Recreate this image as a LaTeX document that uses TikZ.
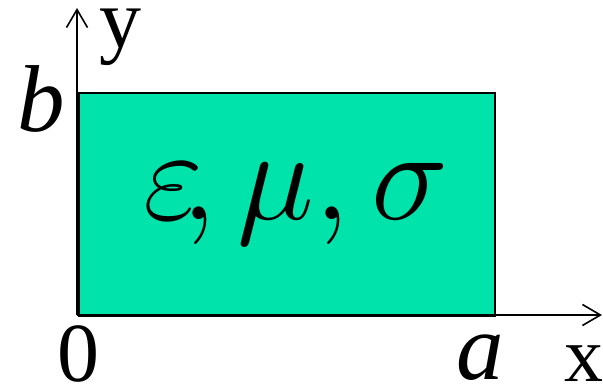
\RequirePackage{fix-cm}
\documentclass[tikz,border=0pt]{standalone}
\usepackage{fontspec}
\setmainfont{Liberation Serif}
\usetikzlibrary{arrows.meta}
\definecolor{fillgreen}{RGB}{0,227,170}
\begin{document}
\begin{tikzpicture}[x=1pt,y=-1pt,
  axis/.style={line width=1.6pt,-{Straight Barb[length=18pt,width=21pt,line width=1.6pt]}},
  lbl/.style={anchor=base,inner sep=0pt,font=\fontsize{84}{90}\selectfont},
  ilbl/.style={anchor=base,inner sep=0pt,font=\fontsize{95}{100}\selectfont\itshape}]
\useasboundingbox (0,0) rectangle (603,385);
\node[draw=black,line width=1.6pt,fill=fillgreen,minimum width=416pt,minimum height=223pt,inner sep=0pt,anchor=north west] (box) at (78,92) {};
\coordinate (O) at (77,315);
\coordinate (ytip) at (77,8);
\coordinate (xtip) at (602,315);
\draw[axis] (O) -- (ytip);
\draw[axis] (O) -- (xtip);
\node[anchor=base,inner sep=0pt,font=\fontsize{130}{136}\selectfont] (mat) at (296,220) {$\varepsilon\!,\mu,\sigma$};
\node[lbl] (ylab) at (120,48) {y};
\node[lbl,font=\fontsize{78}{80}\selectfont] (xlab) at (584,381) {x};
\node[lbl] (zero) at (78,381) {0};
\node[ilbl] (blab) at (41,132) {b};
\node[ilbl] (alab) at (480,379) {a};
\end{tikzpicture}
\end{document}
